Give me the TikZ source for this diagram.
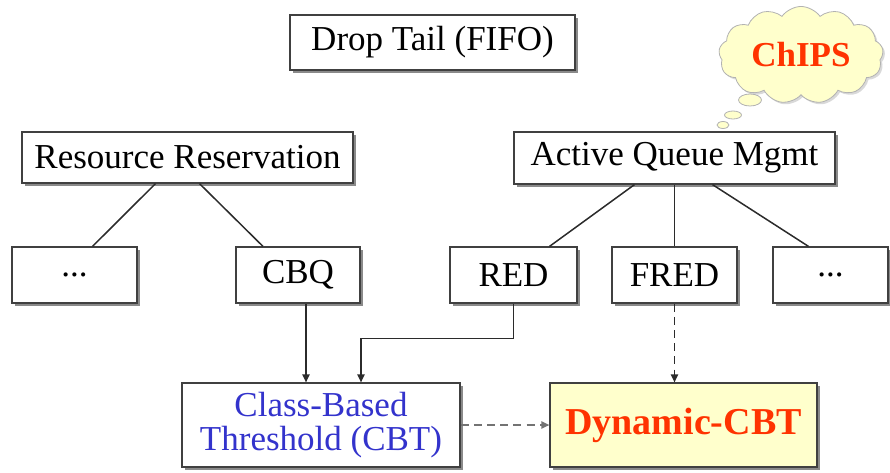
\documentclass[tikz,border=0pt]{standalone}
\usepackage{fontspec}
\setmainfont{Liberation Serif}
\usepackage{tikz}
\usetikzlibrary{arrows.meta,positioning,calc,shapes.geometric,shapes.symbols,shadows}
\definecolor{cLine}{HTML}{2b2b2b}
\definecolor{cShade}{HTML}{8a8a8a}
\definecolor{cNote}{HTML}{ffffcc}
\definecolor{cRed}{HTML}{ff3300}
\definecolor{cBlue}{HTML}{3333cc}
\tikzset{
  box/.style={rectangle,draw=black!75,line width=0.6pt,fill=white,
              inner sep=2pt,align=center,
              font=\fontsize{17.5}{17}\selectfont,
              drop shadow={shadow xshift=1.5pt,shadow yshift=-1.5pt,
                           fill=cShade,opacity=1}},
  link/.style={line width=0.75pt,cLine},
  feed/.style={link,-{Triangle[length=4pt,width=3.6pt]}},
  hint/.style={feed,dash pattern=on 4pt off 2.6pt},
  bubble/.style={ellipse,draw=black!30,fill=cNote,inner sep=0pt},
}

\begin{document}
\begin{tikzpicture}[x=0.5pt,y=-0.5pt]
  \useasboundingbox (0,0) rectangle (890,472);
  % top row
  \node[box,minimum width=142.5pt,minimum height=27.5pt] (drop) at (432.5,42.5) {Drop Tail (FIFO)};
  \node[cloud,cloud puffs=13,cloud puff arc=110,aspect=2,draw=black!30,fill=cNote,
        minimum width=81pt,minimum height=42pt,font=\fontsize{17.5}{17}\selectfont\bfseries,
        text=cRed,drop shadow={shadow xshift=1pt,shadow yshift=-1pt,fill=black!15,opacity=1}]
        (chips) at (801,55) {ChIPS};
  \node[bubble,minimum width=11.5pt,minimum height=6pt] (b1) at (750,100) {};
  \node[bubble,minimum width=8.5pt,minimum height=4pt] (b2) at (733,115) {};
  \node[bubble,minimum width=6pt,minimum height=3.5pt] (b3) at (723,125) {};

  % the two families
  \node[box,minimum width=165.5pt,minimum height=25.5pt] (rr) at (187.5,157.5) {Resource Reservation};
  \node[box,minimum width=160.5pt,minimum height=26pt] (aqm) at (674.5,158) {Active Queue Mgmt};

  % schemes
  \node[box,minimum width=62.5pt,minimum height=28pt] (dotsL) at (74.5,275) {...};
  \node[box,minimum width=62pt,minimum height=28pt] (cbq) at (298,275) {CBQ};
  \node[box,minimum width=63.5pt,minimum height=28pt] (red) at (513.5,275) {RED};
  \node[box,minimum width=62.5pt,minimum height=28pt] (fred) at (674.5,275) {FRED};
  \node[box,minimum width=57.5pt,minimum height=28pt] (dotsR) at (830.5,275) {...};

  % results
  \node[box,minimum width=139pt,minimum height=42pt,text=cBlue] (cbt) at (321,425) {Class-Based\\Threshold (CBT)};
  \node[box,minimum width=133.5pt,minimum height=42pt,fill=cNote,text=cRed,
        font=\fontsize{19}{19}\selectfont\bfseries] (dyn) at (683.5,425) {Dynamic-CBT};

  \draw[link] ([xshift=-16pt]rr.south) -- ([xshift=9pt]dotsL.north);
  \draw[link] ([xshift=6pt]rr.south) -- ([xshift=-17.5pt]cbq.north);
  \draw[link] ([xshift=-20pt]aqm.south) -- ([xshift=18pt]red.north);
  \draw[link] (aqm.south) -- (fred.north);
  \draw[link] ([xshift=19pt]aqm.south) -- ([xshift=-11pt]dotsR.north);

  \draw[feed] ([xshift=4pt]cbq.south) -- ([xshift=4pt]cbq.south |- cbt.north);
  \draw[feed] (red.south) -- ++(0,35) -| ([xshift=20pt]cbt.north);
  \draw[hint] (fred.south) -- (fred.south |- dyn.north);
  \draw[hint,black!55] (cbt.east) -- (dyn.west);
\end{tikzpicture}
\end{document}
